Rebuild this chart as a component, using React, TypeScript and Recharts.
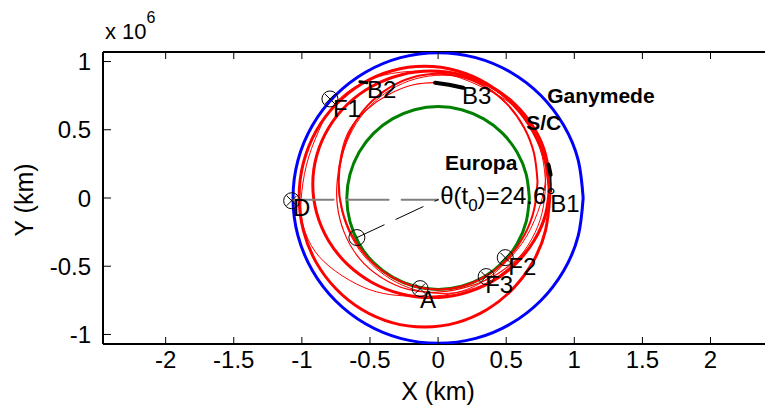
import { ScatterChart, Scatter, XAxis, YAxis, Label } from "recharts"

type Pt = { x: number; y: number }

const FONT = "'Liberation Sans', Arial, Helvetica, sans-serif"
const X_DOMAIN = [-2.46, 2.4]
const Y_DOMAIN = [-1.07, 1.07]

const xTicks = [-2, -1.5, -1, -0.5, 0, 0.5, 1, 1.5, 2]
const yTicks = [-1, -0.5, 0, 0.5, 1]

// positions in units of 10^6 km
const ganymedeOrbit = [
  [1.065, 0], [1.029, 0.276], [0.922, 0.533], [0.753, 0.753], [0.533, 0.922], [0.276, 1.029],
  [0, 1.065], [-0.276, 1.029], [-0.533, 0.922], [-0.753, 0.753], [-0.922, 0.533], [-1.029, 0.276],
  [-1.065, 0], [-1.029, -0.276], [-0.922, -0.533], [-0.753, -0.753], [-0.533, -0.922], [-0.276, -1.029],
  [0, -1.065], [0.276, -1.029], [0.533, -0.922], [0.753, -0.753], [0.922, -0.533], [1.029, -0.276], [1.065, 0],
]

const europaOrbit = [
  [0.67, 0], [0.647, 0.173], [0.58, 0.335], [0.474, 0.474], [0.335, 0.58], [0.173, 0.647],
  [0, 0.67], [-0.173, 0.647], [-0.335, 0.58], [-0.474, 0.474], [-0.58, 0.335], [-0.647, 0.173],
  [-0.67, 0], [-0.647, -0.173], [-0.58, -0.335], [-0.474, -0.474], [-0.335, -0.58], [-0.173, -0.647],
  [0, -0.67], [0.173, -0.647], [0.335, -0.58], [0.474, -0.474], [0.58, -0.335], [0.647, -0.173], [0.67, 0],
]

// spacecraft revolutions
const scRev1 = [
  [0.82, 0.01], [0.789, 0.257], [0.697, 0.488], [0.55, 0.685], [0.36, 0.837], [0.138, 0.933],
  [-0.1, 0.965], [-0.338, 0.933], [-0.56, 0.837], [-0.75, 0.685], [-0.897, 0.488], [-0.989, 0.257],
  [-1.02, 0.01], [-0.989, -0.237], [-0.897, -0.468], [-0.75, -0.665], [-0.56, -0.817], [-0.338, -0.913],
  [-0.1, -0.945], [0.138, -0.913], [0.36, -0.817], [0.55, -0.665], [0.697, -0.468], [0.789, -0.237], [0.82, 0.01],
]

const scRev2 = [
  [0.82, 0.1], [0.79, 0.315], [0.703, 0.515], [0.565, 0.687], [0.385, 0.819], [0.175, 0.902],
  [-0.05, 0.93], [-0.275, 0.902], [-0.485, 0.819], [-0.665, 0.687], [-0.803, 0.515], [-0.89, 0.315],
  [-0.92, 0.1], [-0.89, -0.115], [-0.803, -0.315], [-0.665, -0.487], [-0.485, -0.619], [-0.275, -0.702],
  [-0.05, -0.73], [0.175, -0.702], [0.385, -0.619], [0.565, -0.487], [0.703, -0.315], [0.79, -0.115], [0.82, 0.1],
]

const scRev3 = [
  [0.73, 0.12], [0.705, 0.324], [0.632, 0.515], [0.516, 0.679], [0.365, 0.804], [0.189, 0.883],
  [0, 0.91], [-0.189, 0.883], [-0.365, 0.804], [-0.516, 0.679], [-0.632, 0.515], [-0.705, 0.324],
  [-0.73, 0.12], [-0.705, -0.084], [-0.632, -0.275], [-0.516, -0.439], [-0.365, -0.564], [-0.189, -0.643],
  [0, -0.67], [0.189, -0.643], [0.365, -0.564], [0.516, -0.439], [0.632, -0.275], [0.705, -0.084], [0.73, 0.12],
]

const scRev4 = [
  [0.79, 0.1], [0.764, 0.307], [0.688, 0.5], [0.567, 0.666], [0.41, 0.793], [0.227, 0.873],
  [0.03, 0.9], [-0.167, 0.873], [-0.35, 0.793], [-0.507, 0.666], [-0.628, 0.5], [-0.704, 0.307],
  [-0.73, 0.1], [-0.704, -0.107], [-0.628, -0.3], [-0.507, -0.466], [-0.35, -0.593], [-0.167, -0.673],
  [0.03, -0.7], [0.227, -0.673], [0.41, -0.593], [0.567, -0.466], [0.688, -0.3], [0.764, -0.107], [0.79, 0.1],
]

const scRev5 = [
  [-0.85, 0.55], [-0.95, 0.3], [-1.0, 0.05], [-1.0, -0.16], [-0.93, -0.35], [-0.8, -0.5], [-0.6, -0.63],
  [-0.4, -0.7], [-0.19, -0.72], [0.05, -0.71], [0.3, -0.63], [0.5, -0.47], [0.65, -0.28], [0.75, -0.05],
  [0.79, 0.15], [0.78, 0.35], [0.7, 0.52], [0.55, 0.68], [0.35, 0.8], [0.1, 0.9], [-0.15, 0.93],
  [-0.4, 0.9], [-0.6, 0.82], [-0.75, 0.7], [-0.85, 0.55],
]

const scFinalArc = [
  [0.83, 0.05], [0.8, -0.1], [0.73, -0.28], [0.6, -0.43], [0.43, -0.56], [0.22, -0.65], [0, -0.69],
  [-0.22, -0.67], [-0.42, -0.58], [-0.58, -0.44], [-0.69, -0.25], [-0.74, -0.05], [-0.74, 0.13],
  [-0.71, 0.33], [-0.65, 0.5], [-0.52, 0.65], [-0.36, 0.76], [-0.18, 0.83], [-0.02, 0.845],
]

// burn arcs
const burnB1 = [[0.81, 0.245], [0.818, 0.21], [0.826, 0.17]]
const burnB1Tail = [[0.826, 0.17], [0.83, 0.05]]
const burnB2 = [[-0.574, 0.852], [-0.522, 0.845]]
const burnB3 = [[-0.022, 0.845], [0.08, 0.83], [0.184, 0.808]]

const refLine = [[-1.075, -0.012], [0, -0.012]]
const thetaRay = [[-0.596, -0.29], [0, -0.012]]

const flybys = [[-0.794, 0.726], [-1.075, -0.02], [-0.132, -0.664], [0.493, -0.437], [0.353, -0.576]]
const thetaMark = [[-0.596, -0.29]]

const pointLabels = [
  { x: -0.772, y: 0.653, text: "F1" },
  { x: -0.522, y: 0.793, text: "B2" },
  { x: 0.176, y: 0.749, text: "B3" },
  { x: 0.824, y: -0.042, text: "B1" },
  { x: -1.066, y: -0.07, text: "D" },
  { x: 0.515, y: -0.503, text: "F2" },
  { x: 0.346, y: -0.635, text: "F3" },
  { x: -0.132, y: -0.745, text: "A" },
]
const bodyLabels = [
  { x: 0.801, y: 0.751, text: "Ganymede" },
  { x: 0.647, y: 0.551, text: "S/C" },
  { x: 0.051, y: 0.258, text: "Europa" },
]
const thetaLabel = [{ x: 0.015, y: 0.017, value: "24.6" }]

const toPts = (a: number[][]): Pt[] => a.map(([x, y]) => ({ x, y }))

const NoDot = () => <g />

function BottomTick(p: any) {
  return (
    <g>
      <line x1={p.x} y1={p.y} x2={p.x} y2={p.y - 7} stroke="#000" strokeWidth={1} />
      <text x={p.x} y={p.y + 24} textAnchor="middle" fontSize={24} fontFamily={FONT} fill="#000">
        {p.payload.value}
      </text>
    </g>
  )
}

function TopTick(p: any) {
  return <line x1={p.x} y1={p.y} x2={p.x} y2={p.y + 7} stroke="#000" strokeWidth={1} />
}

function LeftTick(p: any) {
  return (
    <g>
      <line x1={p.x} y1={p.y} x2={p.x + 8} y2={p.y} stroke="#000" strokeWidth={1} />
      <text x={p.x - 12} y={p.y + 8.5} textAnchor="end" fontSize={24} fontFamily={FONT} fill="#000">
        {p.payload.value}
      </text>
    </g>
  )
}

function FlybyMarker(p: any) {
  return (
    <g stroke="#000" strokeWidth={1} fill="none">
      <circle cx={p.cx} cy={p.cy} r={8} />
      <line x1={p.cx - 5} y1={p.cy - 5} x2={p.cx + 5} y2={p.cy + 5} />
      <line x1={p.cx - 5} y1={p.cy + 5} x2={p.cx + 5} y2={p.cy - 5} />
    </g>
  )
}

function RingMarker(p: any) {
  return <circle cx={p.cx} cy={p.cy} r={8} stroke="#000" strokeWidth={1} fill="none" />
}

function PointText(p: any) {
  return (
    <text x={p.cx} y={p.cy} dy={8.5} fontSize={24} fontFamily={FONT} fill="#000">
      {p.payload.text}
    </text>
  )
}

function BodyText(p: any) {
  return (
    <text x={p.cx} y={p.cy} dy={7.5} fontSize={21} fontWeight="bold" fontFamily={FONT} fill="#000">
      {p.payload.text}
    </text>
  )
}

function ThetaText(p: any) {
  return (
    <text x={p.cx} y={p.cy} dy={8.5} fontSize={24} fontFamily={FONT} fill="#000">
      θ(t
      <tspan fontSize={17} dy={7}>0</tspan>
      <tspan dy={-7}>)={p.payload.value}°</tspan>
    </text>
  )
}

function YTitle(p: any) {
  const vb = p.viewBox || { x: 0, y: 52 }
  return (
    <g fontFamily={FONT} fill="#000">
      <text x={33} y={vb.y + 148} transform={`rotate(-90, 33, ${vb.y + 148})`} textAnchor="middle" fontSize={25}>
        Y (km)
      </text>
      <text x={vb.x + 105} y={vb.y - 13} fontSize={22}>
        x 10
        <tspan fontSize={16} dy={-16}>6</tspan>
      </text>
    </g>
  )
}

function XTitle(p: any) {
  const vb = p.viewBox || { x: 103, y: 344, width: 662 }
  return (
    <text x={438} y={vb.y + 56} textAnchor="middle" fontSize={25} fontFamily={FONT} fill="#000">
      X (km)
    </text>
  )
}

const curve = (stroke: string, strokeWidth: number, dash?: string) => ({
  stroke,
  strokeWidth,
  strokeDasharray: dash,
  strokeLinejoin: "round" as const,
  strokeLinecap: "round" as const,
})

export default function App() {
  return (
    <div style={{ position: "absolute", left: 0, top: 0, width: 765, height: 411, background: "#fff" }}>
      <ScatterChart width={765} height={411} margin={{ top: 0, right: 0, bottom: 0, left: 0 }}>
        <XAxis
          xAxisId="b"
          type="number"
          dataKey="x"
          domain={X_DOMAIN}
          ticks={xTicks}
          interval={0}
          allowDataOverflow
          height={67}
          tickLine={false}
          tickSize={0}
          tickMargin={0}
          axisLine={{ stroke: "#000", strokeWidth: 2 }}
          tick={(p: any) => <BottomTick {...p} />}
        >
          <Label content={(p: any) => <XTitle {...p} />} />
        </XAxis>
        <XAxis
          xAxisId="t"
          orientation="top"
          type="number"
          dataKey="x"
          domain={X_DOMAIN}
          ticks={xTicks}
          interval={0}
          allowDataOverflow
          height={52}
          tickLine={false}
          tickSize={0}
          tickMargin={0}
          axisLine={{ stroke: "#000", strokeWidth: 2 }}
          tick={(p: any) => <TopTick {...p} />}
        />
        <YAxis
          yAxisId="l"
          type="number"
          dataKey="y"
          domain={Y_DOMAIN}
          ticks={yTicks}
          interval={0}
          allowDataOverflow
          width={103}
          tickLine={false}
          tickSize={0}
          tickMargin={0}
          axisLine={{ stroke: "#000", strokeWidth: 2 }}
          tick={(p: any) => <LeftTick {...p} />}
        >
          <Label content={(p: any) => <YTitle {...p} />} />
        </YAxis>

        <Scatter xAxisId="b" yAxisId="l" data={toPts(ganymedeOrbit)} line={curve("#0000ff", 3)} lineJointType="natural" shape={NoDot} isAnimationActive={false} />
        <Scatter xAxisId="b" yAxisId="l" data={toPts(europaOrbit)} line={curve("#008000", 3)} lineJointType="natural" shape={NoDot} isAnimationActive={false} />
        <Scatter xAxisId="b" yAxisId="l" data={toPts(scRev5)} line={curve("#ff0000", 1)} lineJointType="natural" shape={NoDot} isAnimationActive={false} />
        <Scatter xAxisId="b" yAxisId="l" data={toPts(scRev4)} line={curve("#ff0000", 1)} lineJointType="natural" shape={NoDot} isAnimationActive={false} />
        <Scatter xAxisId="b" yAxisId="l" data={toPts(scFinalArc)} line={curve("#ff0000", 1.2)} lineJointType="natural" shape={NoDot} isAnimationActive={false} />
        <Scatter xAxisId="b" yAxisId="l" data={toPts(scRev3)} line={curve("#ff0000", 2)} lineJointType="natural" shape={NoDot} isAnimationActive={false} />
        <Scatter xAxisId="b" yAxisId="l" data={toPts(scRev2)} line={curve("#ff0000", 3)} lineJointType="natural" shape={NoDot} isAnimationActive={false} />
        <Scatter xAxisId="b" yAxisId="l" data={toPts(scRev1)} line={curve("#ff0000", 3)} lineJointType="natural" shape={NoDot} isAnimationActive={false} />

        <Scatter xAxisId="b" yAxisId="l" data={toPts(burnB1)} line={curve("#000", 4)} shape={NoDot} isAnimationActive={false} />
        <Scatter xAxisId="b" yAxisId="l" data={toPts(burnB1Tail)} line={curve("#000", 1.5)} shape={NoDot} isAnimationActive={false} />
        <Scatter xAxisId="b" yAxisId="l" data={toPts(burnB2)} line={curve("#000", 3)} shape={NoDot} isAnimationActive={false} />
        <Scatter xAxisId="b" yAxisId="l" data={toPts(burnB3)} line={curve("#000", 4)} shape={NoDot} isAnimationActive={false} />

        <Scatter xAxisId="b" yAxisId="l" data={toPts(refLine)} line={curve("#808080", 2, "42 13")} shape={NoDot} isAnimationActive={false} />
        <Scatter xAxisId="b" yAxisId="l" data={toPts(thetaRay)} line={curve("#000", 1, "30 13")} shape={NoDot} isAnimationActive={false} />

        <Scatter xAxisId="b" yAxisId="l" data={toPts(flybys)} shape={FlybyMarker} isAnimationActive={false} />
        <Scatter xAxisId="b" yAxisId="l" data={toPts(thetaMark)} shape={RingMarker} isAnimationActive={false} />

        <Scatter xAxisId="t" yAxisId="l" data={pointLabels} shape={PointText} isAnimationActive={false} />
        <Scatter xAxisId="t" yAxisId="l" data={bodyLabels} shape={BodyText} isAnimationActive={false} />
        <Scatter xAxisId="t" yAxisId="l" data={thetaLabel} shape={ThetaText} isAnimationActive={false} />
      </ScatterChart>
    </div>
  )
}
